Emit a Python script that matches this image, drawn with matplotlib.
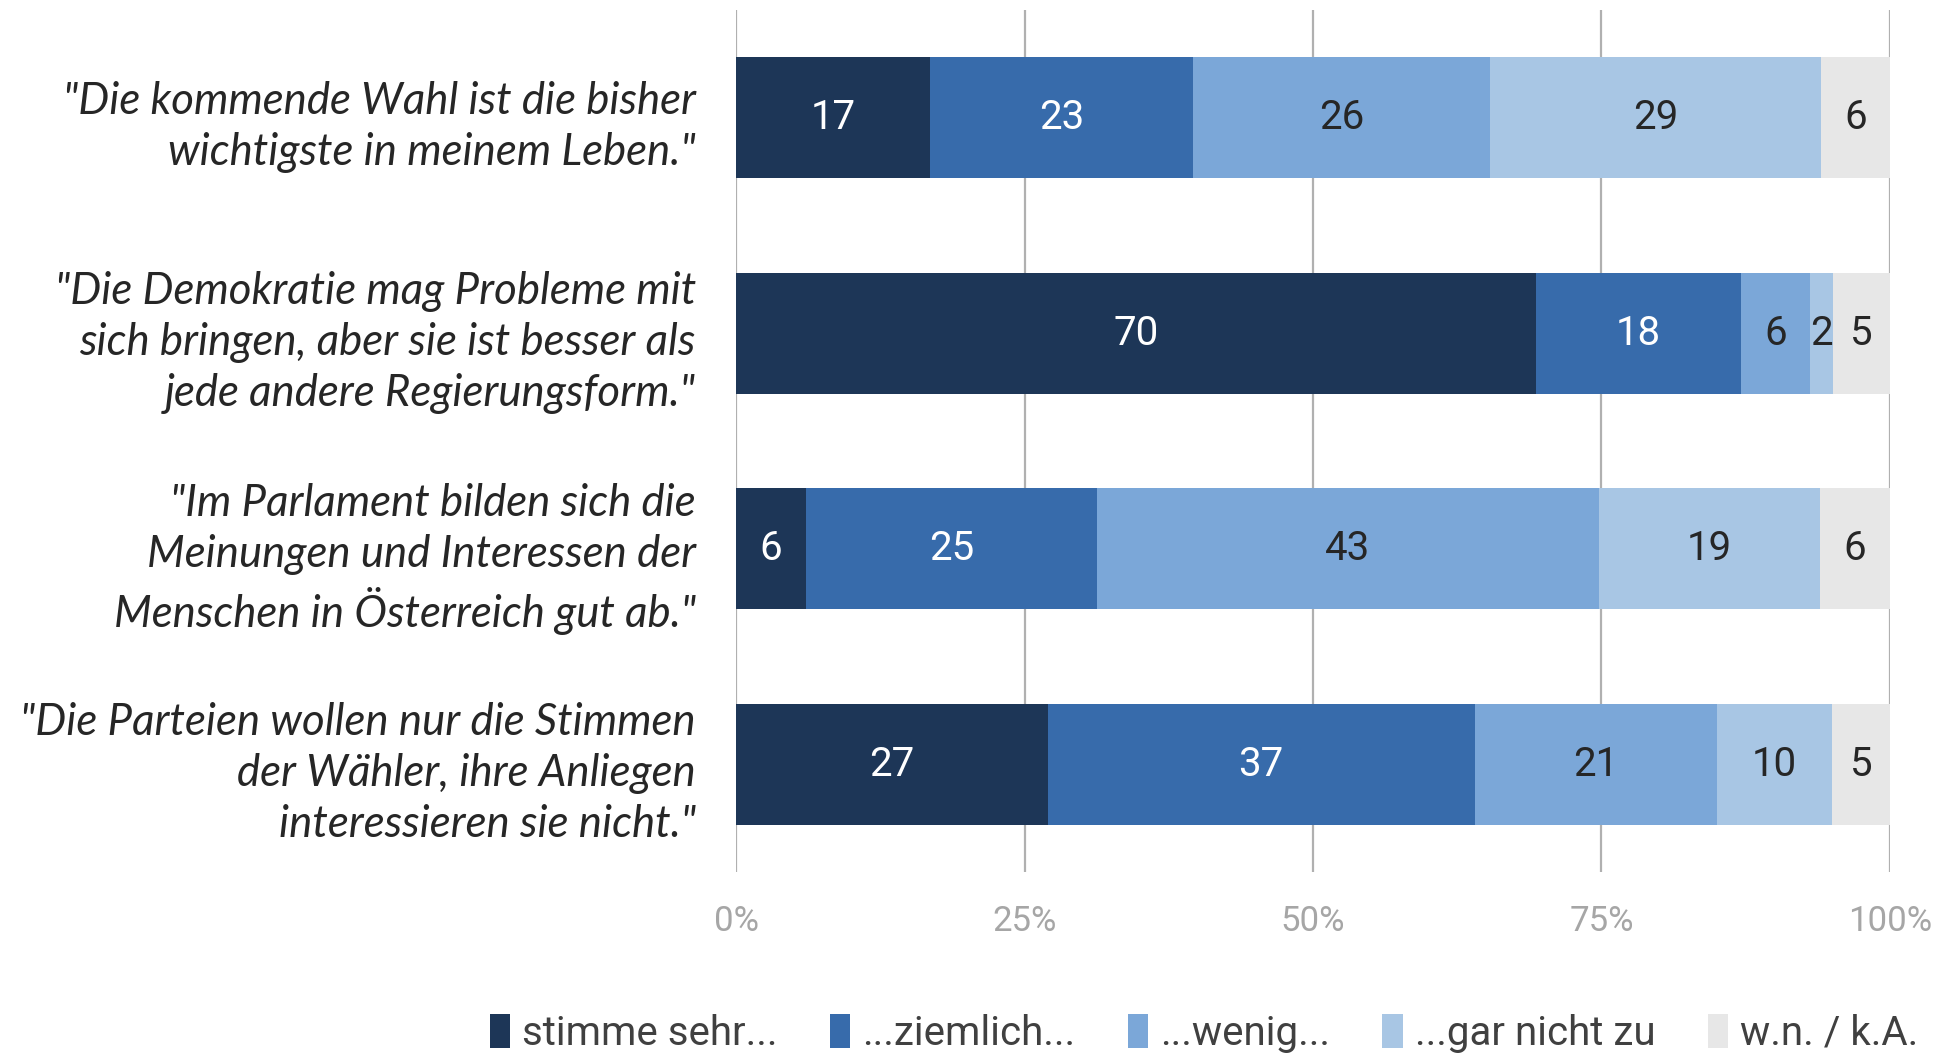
import numpy as np
import matplotlib.pyplot as plt

statements = [
    '"Die kommende Wahl ist die bisher\nwichtigste in meinem Leben."',
    '"Die Demokratie mag Probleme mit\nsich bringen, aber sie ist besser als\njede andere Regierungsform."',
    '"Im Parlament bilden sich die\nMeinungen und Interessen der\nMenschen in Österreich gut ab."',
    '"Die Parteien wollen nur die Stimmen\nder Wähler, ihre Anliegen\ninteressieren sie nicht."',
]
series_names = ["stimme sehr...", "...ziemlich...", "...wenig...", "...gar nicht zu", "w.n. / k.A."]
sehr = [17, 70, 6, 27]
ziemlich = [23, 18, 25, 37]
wenig = [26, 6, 43, 21]
gar_nicht = [29, 2, 19, 10]
wn_ka = [6, 5, 6, 5]

colors = ["#1d3657", "#376bab", "#7ba7d8", "#a8c6e4", "#e7e7e7"]
label_colors = ["white", "white", "#262626", "#262626", "#262626"]
font = "Roboto"

values = np.array([sehr, ziemlich, wenig, gar_nicht, wn_ka], dtype=float)
shares = values / values.sum(axis=0) * 100

fig = plt.figure(figsize=(19.39, 10.54), dpi=100)
ax = fig.add_axes([0.3796, 0.1727, 0.5951, 0.8178])

y = np.arange(len(statements))
left = np.zeros(len(statements))
for i, name in enumerate(series_names):
    bars = ax.barh(y, shares[i], left=left, height=0.56, color=colors[i],
                   label=name, zorder=3)
    for j, b in enumerate(bars):
        ax.text(left[j] + shares[i][j] / 2, y[j], f"{int(values[i][j])}",
                ha="center", va="center", fontsize=29, color=label_colors[i],
                family=font, zorder=4)
    left += shares[i]

ax.set_xlim(0, 100)
ax.set_ylim(3.5, -0.5)
ax.set_xticks([0, 25, 50, 75, 100])
ax.set_xticklabels(["0%", "25%", "50%", "75%", "100%"], fontsize=25,
                   color="#a6a6a6", family=font)
ax.set_yticks(y)
ax.set_yticklabels(statements, fontsize=31.5, color="#262626", style="italic",
                   family="Lato", linespacing=1.3)
ax.tick_params(axis="both", length=0)
ax.tick_params(axis="y", pad=29)
ax.tick_params(axis="x", pad=24)
ax.grid(axis="x", color="#b0b0b0", linewidth=1.6, zorder=0)
for s in ax.spines.values():
    s.set_visible(False)

fig.legend(loc="center", bbox_to_anchor=(0.621, 0.0195), ncol=5, frameon=False,
           prop={"family": font, "size": 29}, handlelength=0.5, handleheight=0.9,
           handletextpad=0.3, columnspacing=1.3, labelcolor="#404040")

fig.savefig("out.png", dpi=100)
